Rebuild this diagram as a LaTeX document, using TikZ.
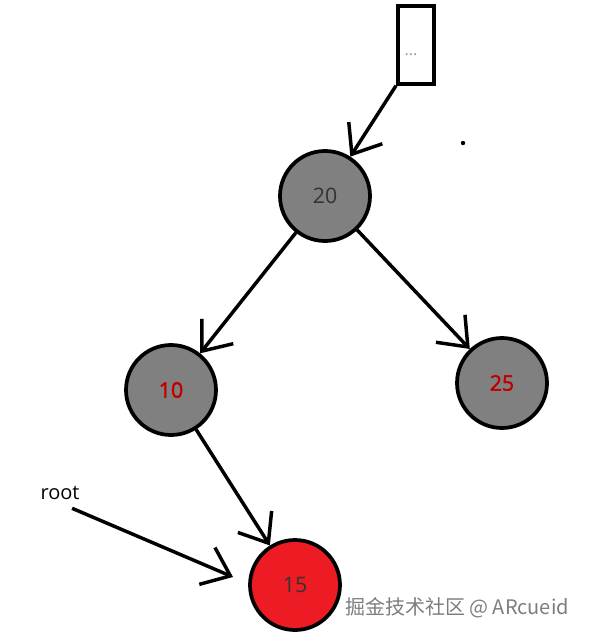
\documentclass[tikz,border=0pt]{standalone}
\usepackage{fontspec}
\setmainfont{Open Sans}[AutoFakeBold=2]
\newfontfamily\cjkfont{Noto Sans CJK SC}
\usetikzlibrary{arrows.meta}
\definecolor{nodegray}{RGB}{128,128,128}
\definecolor{nodered}{RGB}{237,28,36}
\definecolor{labelred}{RGB}{192,0,0}
\definecolor{markgray}{RGB}{125,125,125}
\begin{document}
\begin{tikzpicture}[
    x=0.75pt, y=-0.75pt,
    treenode/.style={circle, draw, line width=2.8pt, minimum size=67.5pt, inner sep=0pt, fill=nodegray, font=\fontsize{16}{19}\selectfont},
    stackbox/.style={rectangle, draw, line width=3pt, minimum width=27pt, minimum height=58pt, inner sep=0pt},
    arrow/.style={-{Straight Barb[length=19pt, width=30pt]}, line width=2.6pt},
    label/.style={font=\fontsize{15}{18}\selectfont}
]
\useasboundingbox (0,0) rectangle (590,638);

\node[stackbox] (stack) at (416,45) {};
\node[font=\large, text=gray!80] (stackdots) at (411,55) {...};

\node[treenode] (n20) at (325,196) {\textcolor{black!80}{20}};
\node[treenode] (n10) at (171,390) {\textcolor{labelred}{\textbf{10}}};
\node[treenode] (n25) at (502,383) {\textcolor{labelred}{\textbf{25}}};
\node[treenode, fill=nodered] (n15) at (295,585) {\textcolor{black!80}{15}};

\node[label, inner sep=1pt] (root) at (60,493) {root};
\coordinate (rootend) at (233,577);

\node[font=\cjkfont\fontsize{15}{18}\selectfont, text=markgray] (watermark) at (457,608) {掘金技术社区 @ ARcueid};

\fill (463,143) circle (2.2);

\draw[arrow] (stack.south west) -- (n20);
\draw[arrow] (n20) -- (n10);
\draw[arrow] (n20) -- (n25);
\draw[arrow] (n10) -- (n15);
\draw[arrow] ([shift={(-9,7)}]root.south east) -- (rootend);

\end{tikzpicture}
\end{document}
